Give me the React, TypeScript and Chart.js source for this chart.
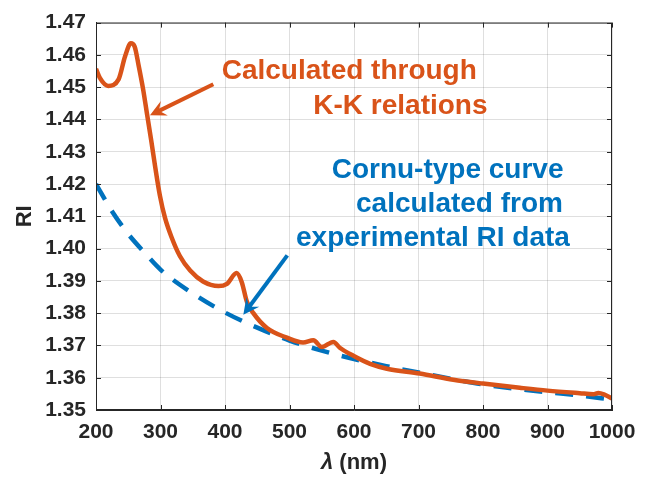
import React, { useEffect, useRef } from "react";
import { Chart, registerables } from "chart.js";

Chart.register(...registerables);

// K-K calculated RI curve (orange, solid)
const kkWavelength = [200, 206, 219, 235, 245, 254, 260, 266, 273, 279, 286, 292, 299, 307, 317, 330, 346, 366, 390, 403, 418, 426, 434, 444, 465, 496, 521, 537, 550, 568, 578, 599, 625, 651, 702, 754, 800, 857, 900, 950, 971, 979, 989, 1000];
const kkRI = [1.4557, 1.4529, 1.4504, 1.4524, 1.4595, 1.4636, 1.4625, 1.4568, 1.4494, 1.4418, 1.433, 1.425, 1.4165, 1.4095, 1.4036, 1.3977, 1.3932, 1.3898, 1.3884, 1.3891, 1.3924, 1.3896, 1.3835, 1.38, 1.3754, 1.3724, 1.3709, 1.3716, 1.3695, 1.3711, 1.3693, 1.3668, 1.3643, 1.3628, 1.3613, 1.3594, 1.3582, 1.3569, 1.356, 1.3552, 1.3549, 1.3553, 1.3547, 1.3536];

// Cornu-type curve (blue, dashed)
const cornuWavelength = [200, 225, 250, 275, 300, 350, 400, 450, 500, 550, 600, 650, 700, 750, 800, 850, 900, 950, 1000];
const cornuRI = [1.42, 1.4115, 1.4045, 1.3988, 1.3935, 1.3861, 1.3802, 1.3755, 1.3715, 1.3684, 1.3658, 1.3636, 1.3616, 1.3597, 1.3579, 1.3566, 1.3555, 1.3545, 1.3532];

const xTicks = [200, 300, 400, 500, 600, 700, 800, 900, 1000];
const yTicks = [1.35, 1.36, 1.37, 1.38, 1.39, 1.4, 1.41, 1.42, 1.43, 1.44, 1.45, 1.46, 1.47];

const ORANGE = "#D95319";
const BLUE = "#0072BD";
const AXIS = "#262626";
const FONT = "'Liberation Sans', Arial, sans-serif";

// annotation lines in data coordinates (left x, baseline y)
const kkLabelLines = ["Calculated through", "K-K relations"];
const kkLabelX = [394.9, 536.9];
const kkLabelY = [1.4526, 1.4418];
const kkArrow = { fromX: 381.9, fromY: 1.4509, toX: 283.7, toY: 1.4413 };

const cornuLabelLines = ["Cornu-type curve", "calculated from", "experimental RI data"];
const cornuLabelX = [565.4, 603.1, 510.1];
const cornuLabelY = [1.422, 1.4114, 1.4007];
const cornuArrow = { fromX: 496.6, fromY: 1.3979, toX: 428.4, toY: 1.3795 };

function drawArrow(ctx: CanvasRenderingContext2D, x1: number, y1: number, x2: number, y2: number, color: string) {
  const ang = Math.atan2(y2 - y1, x2 - x1);
  const headLen = 16;
  const headW = 8;
  const notch = 10;
  ctx.save();
  ctx.strokeStyle = color;
  ctx.fillStyle = color;
  ctx.lineWidth = 4;
  ctx.lineCap = "butt";
  ctx.beginPath();
  ctx.moveTo(x1, y1);
  ctx.lineTo(x2 - Math.cos(ang) * notch, y2 - Math.sin(ang) * notch);
  ctx.stroke();
  const bx = x2 - Math.cos(ang) * headLen;
  const by = y2 - Math.sin(ang) * headLen;
  const nx = -Math.sin(ang);
  const ny = Math.cos(ang);
  ctx.beginPath();
  ctx.moveTo(x2, y2);
  ctx.lineTo(bx + nx * headW, by + ny * headW);
  ctx.lineTo(x2 - Math.cos(ang) * notch, y2 - Math.sin(ang) * notch);
  ctx.lineTo(bx - nx * headW, by - ny * headW);
  ctx.closePath();
  ctx.fill();
  ctx.restore();
}

const framePlugin = {
  id: "frame",
  afterDatasetsDraw(chart: any) {
    const { ctx, chartArea, scales } = chart;
    const { left, right, top, bottom } = chartArea;
    const xs = scales.x;
    const ys = scales.y;
    ctx.save();
    // box
    ctx.strokeStyle = AXIS;
    ctx.lineWidth = 1;
    ctx.strokeRect(left + 0.5, top + 0.5, right - left - 1, bottom - top - 1);
    // inward ticks
    const tl = 5;
    ctx.beginPath();
    xTicks.forEach((v) => {
      const px = Math.round(xs.getPixelForValue(v)) + 0.5;
      ctx.moveTo(px, bottom);
      ctx.lineTo(px, bottom - tl);
      ctx.moveTo(px, top);
      ctx.lineTo(px, top + tl);
    });
    yTicks.forEach((v) => {
      const py = Math.round(ys.getPixelForValue(v)) + 0.5;
      ctx.moveTo(left, py);
      ctx.lineTo(left + tl, py);
      ctx.moveTo(right, py);
      ctx.lineTo(right - tl, py);
    });
    ctx.stroke();

    // annotations
    ctx.font = `bold 28px ${FONT}`;
    ctx.textAlign = "left";
    ctx.textBaseline = "alphabetic";
    ctx.fillStyle = ORANGE;
    kkLabelLines.forEach((t, i) => {
      ctx.fillText(t, xs.getPixelForValue(kkLabelX[i]), ys.getPixelForValue(kkLabelY[i]));
    });
    ctx.fillStyle = BLUE;
    cornuLabelLines.forEach((t, i) => {
      ctx.fillText(t, xs.getPixelForValue(cornuLabelX[i]), ys.getPixelForValue(cornuLabelY[i]));
    });
    drawArrow(ctx, xs.getPixelForValue(kkArrow.fromX), ys.getPixelForValue(kkArrow.fromY), xs.getPixelForValue(kkArrow.toX), ys.getPixelForValue(kkArrow.toY), ORANGE);
    drawArrow(ctx, xs.getPixelForValue(cornuArrow.fromX), ys.getPixelForValue(cornuArrow.fromY), xs.getPixelForValue(cornuArrow.toX), ys.getPixelForValue(cornuArrow.toY), BLUE);

    // axis titles
    ctx.fillStyle = AXIS;
    ctx.textBaseline = "middle";
    const cx = (left + right) / 2;
    const lam = "λ";
    const rest = " (nm)";
    ctx.font = `italic bold 22px ${FONT}`;
    const w1 = ctx.measureText(lam).width;
    ctx.font = `bold 22px ${FONT}`;
    const w2 = ctx.measureText(rest).width;
    const sx = cx - (w1 + w2) / 2;
    const ty = bottom + 53;
    ctx.font = `italic bold 22px ${FONT}`;
    ctx.fillText(lam, sx, ty);
    ctx.font = `bold 22px ${FONT}`;
    ctx.fillText(rest, sx + w1, ty);

    ctx.save();
    ctx.translate(left - 71, (top + bottom) / 2);
    ctx.rotate(-Math.PI / 2);
    ctx.textAlign = "center";
    ctx.fillText("RI", 0, 0);
    ctx.restore();
    ctx.restore();
  },
};

export default function App() {
  const ref = useRef<HTMLCanvasElement | null>(null);
  useEffect(() => {
    if (!ref.current) return;
    const chart = new Chart(ref.current, {
      type: "line",
      data: {
        datasets: [
          {
            label: "K-K",
            data: kkWavelength.map((x, i) => ({ x, y: kkRI[i] })),
            borderColor: ORANGE,
            borderWidth: 4.5,
            pointRadius: 0,
            cubicInterpolationMode: "monotone",
            fill: false,
          },
          {
            label: "Cornu",
            data: cornuWavelength.map((x, i) => ({ x, y: cornuRI[i] })),
            borderColor: BLUE,
            borderWidth: 4.5,
            borderDash: [18, 13],
            borderCapStyle: "butt",
            pointRadius: 0,
            cubicInterpolationMode: "monotone",
            fill: false,
          },
        ],
      },
      options: {
        animation: false,
        responsive: true,
        maintainAspectRatio: false,
        layout: { padding: { left: 0, top: 15, right: 38, bottom: 0 } },
        plugins: { legend: { display: false }, tooltip: { enabled: false } },
        scales: {
          x: {
            type: "linear",
            min: 200,
            max: 1000,
            afterFit: (s: any) => {
              s.height = 70;
            },
            afterBuildTicks: (s: any) => {
              s.ticks = xTicks.map((v) => ({ value: v }));
            },
            ticks: {
              color: AXIS,
              font: { family: FONT, size: 21, weight: "bold" },
              padding: 10,
              maxRotation: 0,
              autoSkip: false,
              callback: (v: any) => String(v),
            },
            grid: { color: "rgba(38,38,38,0.15)", drawTicks: false },
            border: { color: AXIS, width: 1 },
          },
          y: {
            type: "linear",
            min: 1.35,
            max: 1.47,
            afterFit: (s: any) => {
              s.width = 96;
            },
            afterBuildTicks: (s: any) => {
              s.ticks = yTicks.map((v) => ({ value: v }));
            },
            ticks: {
              color: AXIS,
              font: { family: FONT, size: 21, weight: "bold" },
              padding: 10,
              autoSkip: false,
              callback: (v: any) => Number(v).toFixed(2),
            },
            grid: { color: "rgba(38,38,38,0.15)", drawTicks: false },
            border: { color: AXIS, width: 1 },
          },
        },
      },
      plugins: [framePlugin],
    } as any);
    return () => chart.destroy();
  }, []);
  return (
    <div style={{ position: "fixed", left: 0, top: 0, width: 650, height: 480, background: "#fff" }}>
      <canvas ref={ref} />
    </div>
  );
}
